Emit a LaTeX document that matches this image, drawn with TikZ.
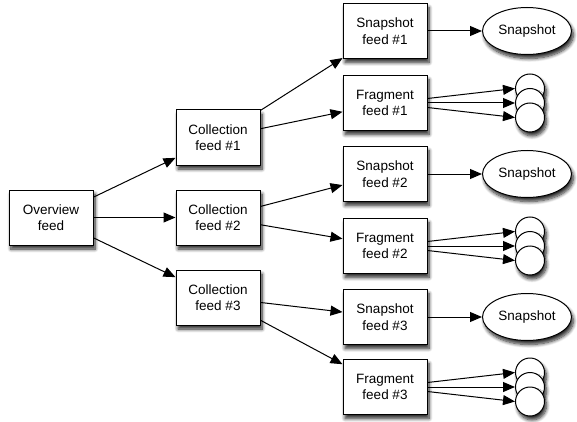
\documentclass[tikz,border=0pt]{standalone}
\usepackage{fontspec}
\setmainfont{Liberation Sans}
\usetikzlibrary{arrows.meta,shapes.geometric,shadows.blur}
\begin{document}
\begin{tikzpicture}[x=1pt,y=-1pt,
  shad/.style={blur shadow={shadow xshift=2pt,shadow yshift=-4pt,shadow blur radius=3.5pt,shadow opacity=85,shadow blur steps=8}},
  feedbox/.style={draw,line width=1pt,fill=white,minimum width=84pt,minimum height=55pt,inner sep=0pt,align=center,shad,
    font=\fontsize{13.5}{16.5}\selectfont},
  snapell/.style={ellipse,draw,line width=1pt,fill=white,minimum width=89pt,minimum height=47pt,inner sep=0pt,shad,
    font=\fontsize{13.5}{16.5}\selectfont},
  frag/.style={circle,draw,line width=1pt,fill=white,minimum size=29pt,inner sep=0pt,shad},
  conn/.style={line width=1pt,-{Triangle[length=12pt,width=10pt]}}]
\useasboundingbox (0,0) rectangle (577,422);

\node[feedbox] (ov) at (51,217.5) {Overview\\feed};
\node[feedbox] (c1) at (218,137.5) {Collection\\feed \#1};
\node[feedbox] (c2) at (218,217.5) {Collection\\feed \#2};
\node[feedbox] (c3) at (218,297.5) {Collection\\feed \#3};

\node[feedbox] (s1) at (385,31) {Snapshot\\feed \#1};
\node[feedbox] (f1) at (385,103) {Fragment\\feed \#1};
\node[feedbox] (s2) at (385,174) {Snapshot\\feed \#2};
\node[feedbox] (f2) at (385,246) {Fragment\\feed \#2};
\node[feedbox] (s3) at (385,317) {Snapshot\\feed \#3};
\node[feedbox] (f3) at (385,387) {Fragment\\feed \#3};

\node[snapell] (e1) at (527,31) {Snapshot};
\node[snapell] (e2) at (527,174) {Snapshot};
\node[snapell] (e3) at (527,317) {Snapshot};

\foreach \i/\y in {1/103,2/246,3/387}{
  \node[frag] (k\i a) at (530,\y-14.5) {};
  \node[frag] (k\i b) at (530,\y) {};
  \node[frag] (k\i c) at (530,\y+14.5) {};
}

\draw[conn] (ov) -- (c1);
\draw[conn] (ov) -- (c2);
\draw[conn] (ov) -- (c3);
\draw[conn] (c1) -- (s1);
\draw[conn] (c1) -- (f1);
\draw[conn] (c2) -- (s2);
\draw[conn] (c2) -- (f2);
\draw[conn] (c3) -- (s3);
\draw[conn] (c3) -- (f3);
\draw[conn] (s1) -- (e1);
\draw[conn] (s2) -- (e2);
\draw[conn] (s3) -- (e3);

\foreach \i in {1,2,3}{
  \draw[conn] ([yshift=4.5pt]f\i.east) -- (k\i a.west);
  \draw[conn] (f\i.east) -- (k\i b.west);
  \draw[conn] ([yshift=-4.5pt]f\i.east) -- (k\i c.west);
}
\end{tikzpicture}
\end{document}
